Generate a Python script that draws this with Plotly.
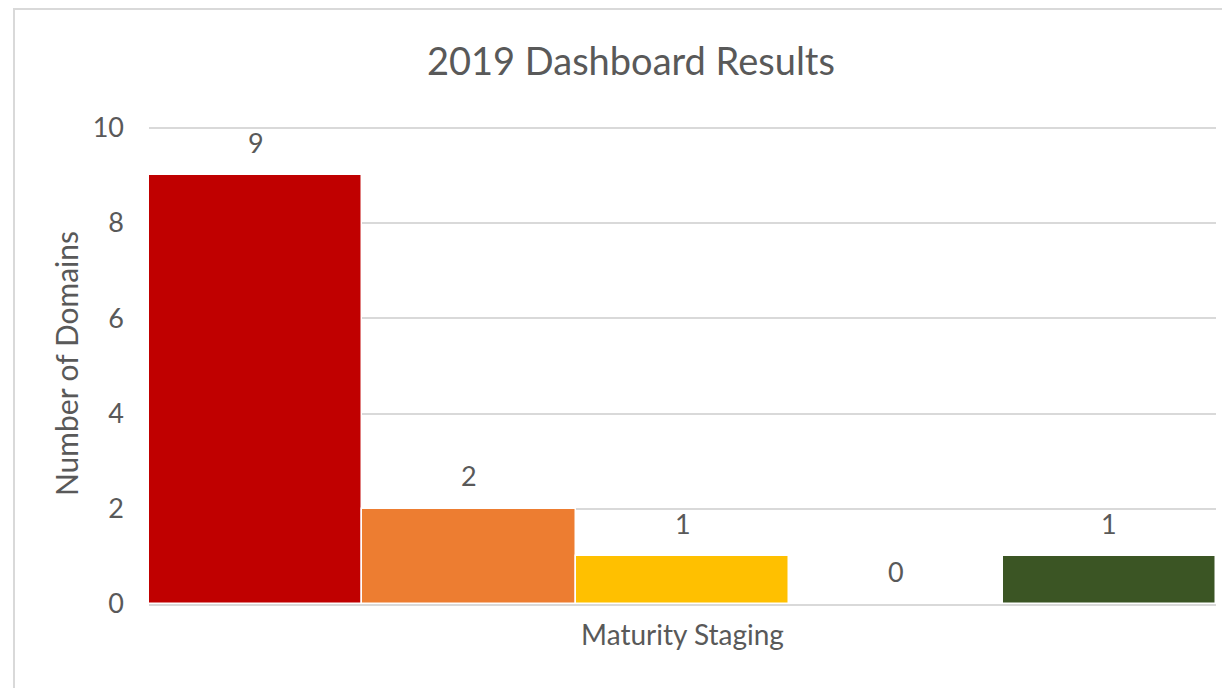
import plotly.graph_objects as go

category = ["Maturity Staging"]
stages = ["Stage 1", "Stage 2", "Stage 3", "Stage 4", "Stage 5"]
values = [9, 2, 1, 0, 1]
colors = ["#C00000", "#ED7D31", "#FFC000", "#92D050", "#3B5524"]

FONT = "Lato"
GREY = "#595959"

# the page body has an 8px margin, so the figure is sized to fit the window
W, H = 1222, 680
ML, MR, MT, MB = 141, 14, 115, 84
plot_w = W - ML - MR
plot_h = H - MT - MB
bar_px = plot_w / len(values)

fig = go.Figure()
for name, v, c in zip(stages, values, colors):
    fig.add_trace(go.Bar(
        x=category, y=[v], name=name,
        marker=dict(color=c, line=dict(color="white", width=1.5)),
        cliponaxis=False,
    ))

annotations = []
for i, v in enumerate(values):
    annotations.append(dict(
        x=category[0], y=v, xref="x", yref="y", text=str(v), showarrow=False,
        xshift=(i - (len(values) - 1) / 2) * bar_px, yshift=33,
        font=dict(family=FONT, size=27, color=GREY),
    ))

fig.update_layout(
    width=W, height=H,
    margin=dict(l=ML, r=MR, t=MT, b=MB),
    paper_bgcolor="white", plot_bgcolor="white",
    barmode="group", bargap=0, bargroupgap=0,
    showlegend=False,
    title=dict(text="2019 Dashboard Results", x=0.5098, xanchor="center",
               y=0.9206, yanchor="middle",
               font=dict(family=FONT, size=38, color=GREY)),
    font=dict(family=FONT, color=GREY),
    xaxis=dict(showgrid=False, showline=True, linecolor="#d9d9d9", linewidth=2,
               tickfont=dict(family=FONT, size=28, color=GREY), ticks="",
               ticklabelstandoff=5),
    yaxis=dict(range=[0, 10.1], tickvals=[0, 2, 4, 6, 8, 10], showgrid=True,
               gridcolor="#d9d9d9", gridwidth=2,
               zeroline=False, showline=False, ticks="", ticklabelstandoff=24,
               tickfont=dict(family=FONT, size=27, color=GREY),
               title=dict(text="Number of Domains", standoff=5,
                          font=dict(family=FONT, size=30, color=GREY))),
    annotations=annotations,
    shapes=[dict(type="rect", xref="paper", yref="paper",
                 x0=-(ML + 8 - 14) / plot_w, x1=1.05,
                 y0=-0.25, y1=1 + (MT - 1) / plot_h,
                 line=dict(color="#d9d9d9", width=2), fillcolor="rgba(0,0,0,0)",
                 layer="below")],
)

fig.write_html("out.html")
